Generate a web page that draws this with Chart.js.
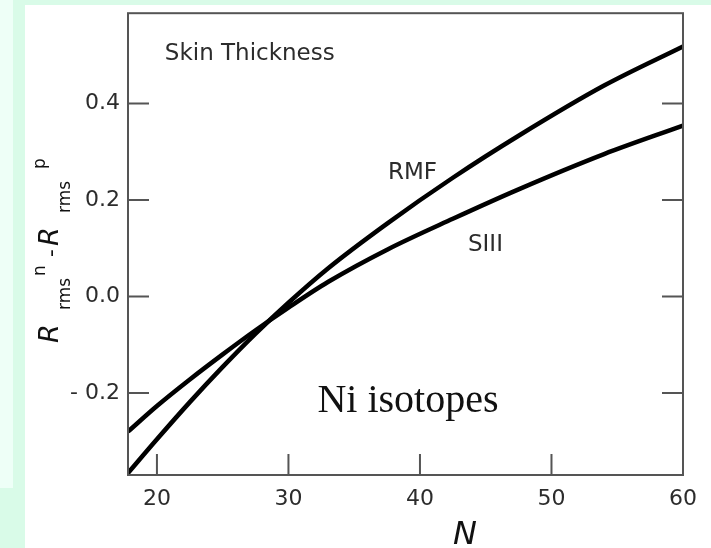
<!DOCTYPE html>
<html>
<head>
<meta charset="utf-8">
<script src="https://cdn.jsdelivr.net/npm/chart.js@4"></script>
<style>
  html, body { margin: 0; padding: 0; }
  body { width: 711px; height: 548px; position: relative; overflow: hidden; background: #d9fbe8; }
  #strip { position: absolute; left: 0; top: 0; width: 13px; height: 488px; background: #eefff7; }
  #panel { position: absolute; left: 25px; top: 5px; right: 0; bottom: 0; background: #ffffff; }
  #chart { position: absolute; left: 0; top: 0; }
</style>
</head>
<body>
<div id="strip"></div>
<div id="panel"></div>
<canvas id="chart" width="711" height="548"></canvas>
<script>
// Neutron number N (shared by both curves)
const neutrons = [17.8, 20, 22.5, 25, 27.5, 30, 33, 37.5, 42.5, 47.5, 54, 60];
// Skin thickness R_rms^n - R_rms^p (fm)
const rmfSkin = [-0.366, -0.296, -0.219, -0.146, -0.077, -0.013, 0.058, 0.151, 0.246, 0.333, 0.437, 0.518];
const siiiSkin = [-0.280, -0.227, -0.172, -0.120, -0.070, -0.023, 0.030, 0.097, 0.161, 0.222, 0.295, 0.354];

const xTicks = [20, 30, 40, 50, 60];
const yTicks = [-0.2, 0.0, 0.2, 0.4];
const yTickLabels = ["- 0.2", "0.0", "0.2", "0.4"];

// Text placed inside the plot (left/baseline in data coordinates)
const notes = [
  { text: "Skin Thickness", n: 20.6, v: 0.489, font: '23px "DejaVu Sans"' },
  { text: "RMF", n: 37.57, v: 0.244, font: '23px "DejaVu Sans"' },
  { text: "SIII", n: 43.65, v: 0.095, font: '23px "DejaVu Sans"' },
  { text: "Ni isotopes", n: 32.2, v: -0.239, font: '40px "Liberation Serif"' },
];

const AXIS_COLOR = "#555555";
const TEXT_COLOR = "#2c2c2c";
const TICK_LEN = 21;

function toPoints(xs, ys) {
  return xs.map((x, i) => ({ x: x, y: ys[i] }));
}

// Frame, inward ticks, annotations and axis titles
const framePlugin = {
  id: "frame",
  afterDraw(chart) {
    const { ctx, chartArea: a, scales } = chart;
    ctx.save();
    ctx.strokeStyle = AXIS_COLOR;
    ctx.lineWidth = 2;
    ctx.strokeRect(a.left, a.top, a.right - a.left, a.bottom - a.top);

    ctx.beginPath();
    xTicks.forEach((v) => {
      const px = scales.x.getPixelForValue(v);
      ctx.moveTo(px, a.bottom);
      ctx.lineTo(px, a.bottom - TICK_LEN);
    });
    yTicks.forEach((v) => {
      const py = scales.y.getPixelForValue(v);
      ctx.moveTo(a.left, py);
      ctx.lineTo(a.left + TICK_LEN, py);
      ctx.moveTo(a.right, py);
      ctx.lineTo(a.right - TICK_LEN, py);
    });
    ctx.stroke();

    // notes
    ctx.textAlign = "left";
    ctx.textBaseline = "alphabetic";
    notes.forEach((nt) => {
      ctx.font = nt.font;
      ctx.fillStyle = nt.font.indexOf("Serif") >= 0 ? "#111111" : TEXT_COLOR;
      ctx.fillText(nt.text, scales.x.getPixelForValue(nt.n), scales.y.getPixelForValue(nt.v));
    });

    // x axis title
    ctx.fillStyle = "#111111";
    ctx.font = 'italic 32px "DejaVu Sans"';
    ctx.textAlign = "center";
    ctx.fillText("N", a.left + 337, 544);

    // y axis title, rotated: R_rms^n - R_rms^p
    ctx.translate(58, 343);
    ctx.rotate(-Math.PI / 2);
    ctx.textAlign = "left";
    const pieces = [
      { t: "R", f: 'italic 27px "DejaVu Sans"', at: 0, dy: 0 },
      { t: "rms", f: '17px "DejaVu Sans"', at: 33, dy: 12 },
      { t: "n", f: '17px "DejaVu Sans"', at: 67, dy: -13 },
      { t: "-", f: '22px "DejaVu Sans"', at: 86, dy: 0 },
      { t: "R", f: 'italic 27px "DejaVu Sans"', at: 97, dy: 0 },
      { t: "rms", f: '17px "DejaVu Sans"', at: 130, dy: 12 },
      { t: "p", f: '17px "DejaVu Sans"', at: 174, dy: -13 },
    ];
    ctx.fillStyle = "#111111";
    pieces.forEach((p) => {
      ctx.font = p.f;
      ctx.fillText(p.t, p.at, p.dy);
    });
    ctx.restore();
  },
};

new Chart(document.getElementById("chart"), {
  type: "line",
  data: {
    datasets: [
      {
        label: "RMF",
        data: toPoints(neutrons, rmfSkin),
        borderColor: "#000000",
        borderWidth: 4.5,
        pointRadius: 0,
        cubicInterpolationMode: "monotone",
        fill: false,
      },
      {
        label: "SIII",
        data: toPoints(neutrons, siiiSkin),
        borderColor: "#000000",
        borderWidth: 4.5,
        pointRadius: 0,
        cubicInterpolationMode: "monotone",
        fill: false,
      },
    ],
  },
  options: {
    responsive: false,
    animation: false,
    layout: { padding: { left: 0, top: 7, right: 28, bottom: 0 } },
    plugins: {
      legend: { display: false },
      tooltip: { enabled: false },
    },
    scales: {
      x: {
        type: "linear",
        min: 17.8,
        max: 60,
        grid: { display: false },
        border: { display: false },
        afterFit: (s) => { s.height = 73; },
        afterBuildTicks: (s) => { s.ticks = xTicks.map((v) => ({ value: v })); },
        ticks: {
          color: TEXT_COLOR,
          font: { family: "DejaVu Sans", size: 22 },
          padding: 3,
          maxRotation: 0,
          callback: (v) => String(v),
        },
      },
      y: {
        type: "linear",
        min: -0.37,
        max: 0.587,
        grid: { display: false },
        border: { display: false },
        afterFit: (s) => { s.width = 128; },
        afterBuildTicks: (s) => { s.ticks = yTicks.map((v) => ({ value: v })); },
        ticks: {
          color: TEXT_COLOR,
          font: { family: "DejaVu Sans", size: 22 },
          padding: 0,
          callback: (v) => {
            const i = yTicks.findIndex((t) => Math.abs(t - v) < 1e-9);
            return i >= 0 ? yTickLabels[i] : "";
          },
        },
      },
    },
  },
  plugins: [framePlugin],
});
</script>
</body>
</html>
